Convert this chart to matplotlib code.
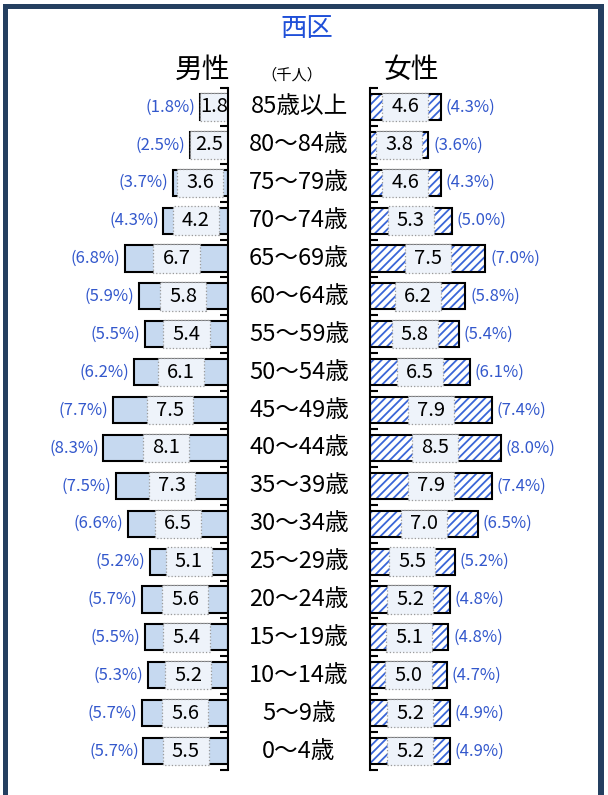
import matplotlib.pyplot as plt
from matplotlib.patches import Rectangle

plt.rcParams['font.family'] = ['Noto Sans CJK JP', 'DejaVu Sans']
plt.rcParams['hatch.linewidth'] = 1.3

# data (top row first)
ages = ['85歳以上', '80～84歳', '75～79歳', '70～74歳', '65～69歳', '60～64歳',
        '55～59歳', '50～54歳', '45～49歳', '40～44歳', '35～39歳', '30～34歳',
        '25～29歳', '20～24歳', '15～19歳', '10～14歳', '5～9歳', '0～4歳']
male = [1.8, 2.5, 3.6, 4.2, 6.7, 5.8, 5.4, 6.1, 7.5, 8.1, 7.3, 6.5, 5.1, 5.6, 5.4, 5.2, 5.6, 5.5]
male_pct = [1.8, 2.5, 3.7, 4.3, 6.8, 5.9, 5.5, 6.2, 7.7, 8.3, 7.5, 6.6, 5.2, 5.7, 5.5, 5.3, 5.7, 5.7]
female = [4.6, 3.8, 4.6, 5.3, 7.5, 6.2, 5.8, 6.5, 7.9, 8.5, 7.9, 7.0, 5.5, 5.2, 5.1, 5.0, 5.2, 5.2]
female_pct = [4.3, 3.6, 4.3, 5.0, 7.0, 5.8, 5.4, 6.1, 7.4, 8.0, 7.4, 6.5, 5.2, 4.8, 4.8, 4.7, 4.9, 4.9]

W, H = 608, 795
fig = plt.figure(figsize=(W / 100, H / 100), dpi=100)

def fx(px):
    return px / W

def fy(py):
    return 1 - py / H

n = len(ages)
ypos = [n - 1 - i for i in range(n)]
bh = 0.69
blue_txt = '#3358CC'

top_px, bot_px = 88, 770
ax_m = fig.add_axes([fx(28), fy(bot_px), fx(200), (bot_px - top_px) / H])
ax_f = fig.add_axes([fx(370), fy(bot_px), fx(200), (bot_px - top_px) / H])

def label_box(ax, v, y):
    # light dotted box behind the value label
    w = min(v, 3.0)
    ax.add_patch(Rectangle((v / 2 - w / 2, y - bh / 2 - 0.03), w, bh + 0.06,
                           facecolor='#EEF3FA', edgecolor='#9A9A9A', linestyle=':',
                           linewidth=0.9, zorder=3))

# male
ax_m.barh(ypos, male, height=bh, color='#C6D9F0', edgecolor='black', linewidth=1.5, zorder=2)
ax_m.set_xlim(13, 0)
for y, v, p in zip(ypos, male, male_pct):
    label_box(ax_m, v, y)
    ax_m.text(v / 2, y, f'{v:.1f}', ha='center', va='center', fontsize=14.5, zorder=4)
    ax_m.text(v + 0.3, y, f'({p:.1f}%)', ha='right', va='center', fontsize=12, color=blue_txt)

# female
ax_f.barh(ypos, female, height=bh, color='white', edgecolor='#3A66D8', hatch='////',
          linewidth=0, zorder=2)
ax_f.barh(ypos, female, height=bh, fill=False, edgecolor='black', linewidth=1.5, zorder=2)
ax_f.set_xlim(0, 13)
for y, v, p in zip(ypos, female, female_pct):
    label_box(ax_f, v, y)
    ax_f.text(v / 2, y, f'{v:.1f}', ha='center', va='center', fontsize=14.5, zorder=4)
    ax_f.text(v + 0.3, y, f'({p:.1f}%)', ha='left', va='center', fontsize=12, color=blue_txt)

bounds = [i - 0.5 for i in range(n + 1)]
for ax in (ax_m, ax_f):
    ax.set_ylim(-0.5, n - 0.5)
    ax.set_facecolor('none')
    for s in ax.spines.values():
        s.set_visible(False)
    ax.set_xticks([])
    ax.set_yticks(bounds)
    ax.set_yticklabels([])
    ax.tick_params(axis='y', direction='in', length=6, width=1.5, color='black')

ax_m.spines['right'].set_visible(True)
ax_m.spines['right'].set_linewidth(1.5)
ax_m.spines['right'].set_zorder(5)
ax_m.yaxis.tick_right()
ax_f.spines['left'].set_visible(True)
ax_f.spines['left'].set_linewidth(1.5)
ax_f.spines['left'].set_zorder(5)

# age labels
for i, a in enumerate(ages):
    yc = top_px + (i + 0.5) * (bot_px - top_px) / n
    fig.text(fx(299), fy(yc), a, ha='center', va='center', fontsize=17)

# headers
fig.text(fx(307), fy(29), '西区', ha='center', va='center', fontsize=19, color='#1F4FD8')
fig.text(fx(203), fy(70), '男性', ha='center', va='center', fontsize=20)
fig.text(fx(411), fy(70), '女性', ha='center', va='center', fontsize=20)
fig.text(fx(292), fy(75), '（千人）', ha='center', va='center', fontsize=11)
fig.text(fx(2), fy(4), '③西区の男女・年齢別人口', ha='left', va='bottom', fontsize=20)

# frame
navy = '#243F60'
fig.add_artist(Rectangle((fx(3), fy(H + 10)), fx(5), (H + 10 - 4) / H, transform=fig.transFigure,
                         color=navy, lw=0))
fig.add_artist(Rectangle((fx(598), fy(H + 10)), fx(6), (H + 10 - 4) / H, transform=fig.transFigure,
                         color=navy, lw=0))
fig.add_artist(Rectangle((fx(3), fy(9)), fx(601), 5 / H, transform=fig.transFigure,
                         color=navy, lw=0))

fig.savefig('out.png', dpi=100)
